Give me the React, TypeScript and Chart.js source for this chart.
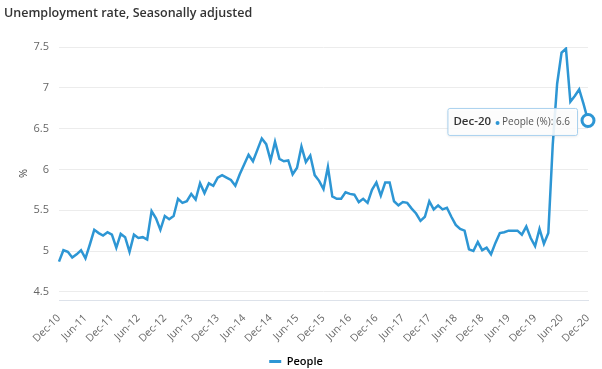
import React, { useEffect, useRef } from "react";
import { Chart, registerables } from "chart.js";

Chart.register(...registerables);

const TITLE = "Unemployment rate, Seasonally adjusted";
const SERIES_NAME = "People";
const UNIT = "%";

const MONTH_NAMES = ["Jan", "Feb", "Mar", "Apr", "May", "Jun", "Jul", "Aug", "Sep", "Oct", "Nov", "Dec"];
const START_YEAR = 2010;
const START_MONTH = 11; // Dec
const MONTH_COUNT = 121; // Dec-10 .. Dec-20
const LABEL_EVERY = 6;

const categories: string[] = [];
for (let i = 0; i < MONTH_COUNT; i++) {
  const m = (START_MONTH + i) % 12;
  const y = START_YEAR + Math.floor((START_MONTH + i) / 12);
  categories.push(`${MONTH_NAMES[m]}-${String(y % 100).padStart(2, "0")}`);
}

const peopleValues = [
  4.87, 5.01, 4.99, 4.92, 4.96, 5.01, 4.91, 5.08, 5.26, 5.22,
  5.19, 5.23, 5.2, 5.04, 5.21, 5.17, 4.99, 5.2, 5.16, 5.17,
  5.14, 5.49, 5.4, 5.26, 5.43, 5.39, 5.43, 5.64, 5.59, 5.61,
  5.7, 5.63, 5.83, 5.71, 5.83, 5.8, 5.9, 5.93, 5.9, 5.87,
  5.8, 5.94, 6.06, 6.18, 6.1, 6.24, 6.38, 6.31, 6.11, 6.34,
  6.13, 6.1, 6.11, 5.94, 6.02, 6.28, 6.09, 6.17, 5.93, 5.86,
  5.76, 6.03, 5.67, 5.64, 5.64, 5.72, 5.7, 5.69, 5.6, 5.64,
  5.59, 5.75, 5.84, 5.68, 5.84, 5.84, 5.61, 5.56, 5.6, 5.59,
  5.52, 5.46, 5.37, 5.42, 5.61, 5.51, 5.56, 5.51, 5.53, 5.42,
  5.32, 5.27, 5.25, 5.02, 5.0, 5.11, 5.01, 5.04, 4.96, 5.1,
  5.22, 5.23, 5.25, 5.25, 5.25, 5.2, 5.3, 5.16, 5.06, 5.27,
  5.09, 5.22, 6.3, 7.05, 7.43, 7.48, 6.83, 6.9, 6.98, 6.8,
  6.6,
];

const yTickValues = [4.5, 5, 5.5, 6, 6.5, 7, 7.5];
const Y_MIN = 4.4;
const Y_MAX = 7.5;

const BLUE = "#2d96d4";
const FONT = '"Open Sans", "Noto Sans", sans-serif';

const fixedTooltip = {
  id: "fixedTooltip",
  afterDatasetsDraw(chart: any) {
    const idx = peopleValues.length - 1;
    const pt = chart.getDatasetMeta(0).data[idx];
    if (!pt) return;
    const { x, y } = pt;
    const ctx = chart.ctx as CanvasRenderingContext2D;
    const title = categories[idx];
    const body = `${SERIES_NAME} (${UNIT}): ${peopleValues[idx]}`;
    ctx.save();
    const titleFont = `600 11.5px ${FONT}`;
    const bodyFont = `10px ${FONT}`;
    ctx.font = titleFont;
    const tw = ctx.measureText(title).width;
    ctx.font = bodyFont;
    const bw = ctx.measureText(body).width;
    const padL = 6, padR = 7, gap = 5, dotW = 6;
    const w = padL + tw + gap + dotW + bw + padR;
    const h = 27;
    const right = x - 11;
    const left = right - w;
    const top = y + 1 - h / 2;
    ctx.shadowColor = "rgba(0,0,0,0.12)";
    ctx.shadowBlur = 3;
    ctx.shadowOffsetY = 1;
    ctx.fillStyle = "rgba(255,255,255,0.88)";
    ctx.beginPath();
    (ctx as any).roundRect(left + 0.5, top + 0.5, w, h, 2);
    ctx.fill();
    ctx.shadowColor = "transparent";
    ctx.strokeStyle = "#a9d1ee";
    ctx.lineWidth = 1;
    ctx.stroke();
    const cy = top + h / 2 + 0.5;
    ctx.textBaseline = "middle";
    ctx.textAlign = "left";
    ctx.font = titleFont;
    ctx.fillStyle = "#333";
    ctx.fillText(title, left + padL, cy);
    const dotX = left + padL + tw + gap + 1.5;
    ctx.fillStyle = BLUE;
    ctx.beginPath();
    ctx.arc(dotX, cy + 1, 2, 0, Math.PI * 2);
    ctx.fill();
    ctx.font = bodyFont;
    ctx.fillStyle = "#555";
    ctx.fillText(body, left + padL + tw + gap + dotW, cy + 0.5);
    ctx.restore();
  },
};

export default function App() {
  const canvasRef = useRef<HTMLCanvasElement | null>(null);

  useEffect(() => {
    if (!canvasRef.current) return;
    const last = peopleValues.length - 1;
    const chart = new Chart(canvasRef.current, {
      type: "line",
      data: {
        labels: categories,
        datasets: [
          {
            label: SERIES_NAME,
            data: peopleValues,
            borderColor: BLUE,
            backgroundColor: BLUE,
            borderWidth: 2.5,
            tension: 0,
            fill: false,
            pointRadius: (c: any) => (c.dataIndex === last ? 6 : 0),
            pointBackgroundColor: "#ffffff",
            pointBorderColor: BLUE,
            pointBorderWidth: 3,
          },
        ],
      },
      options: {
        responsive: true,
        maintainAspectRatio: false,
        animation: false,
        events: [],
        layout: { padding: { left: 4, right: 14, top: 0, bottom: -8 } },
        plugins: {
          title: {
            display: true,
            text: TITLE,
            align: "start",
            color: "#333",
            font: { family: FONT, size: 12.5, weight: "600" },
            padding: { top: 6, bottom: 26 },
          },
          legend: {
            position: "bottom",
            labels: {
              boxWidth: 12,
              boxHeight: 3,
              padding: 2,
              color: "#333",
              font: { family: FONT, size: 11, weight: "600" },
              generateLabels: () => [
                {
                  text: SERIES_NAME,
                  fillStyle: BLUE,
                  strokeStyle: BLUE,
                  lineWidth: 0,
                  hidden: false,
                  datasetIndex: 0,
                } as any,
              ],
            },
          },
          tooltip: { enabled: false },
        },
        scales: {
          x: {
            grid: { display: false },
            border: { display: true, color: "#dde2ea", width: 1 },
            ticks: {
              autoSkip: false,
              minRotation: 45,
              maxRotation: 45,
              padding: 4,
              color: "#666",
              font: { family: FONT, size: 10.5 },
              callback: (_v: any, i: number) => (i % LABEL_EVERY === 0 ? categories[i] : null),
            },
            afterFit: (s: any) => {
              s.height = 54;
            },
          },
          y: {
            min: Y_MIN,
            max: Y_MAX,
            afterBuildTicks: (s: any) => {
              s.ticks = yTickValues.map((v) => ({ value: v }));
            },
            grid: { color: "#ececec", drawTicks: false, lineWidth: 1 },
            border: { display: false },
            ticks: {
              padding: 10,
              color: "#666",
              font: { family: FONT, size: 11 },
              callback: (v: any) => String(v),
            },
            title: {
              display: true,
              text: UNIT,
              color: "#444",
              font: { family: FONT, size: 11 },
              padding: { top: 13, bottom: 0 },
            },
            afterFit: (s: any) => {
              s.width = 55;
            },
          },
        },
      },
      plugins: [fixedTooltip],
    });
    return () => chart.destroy();
  }, []);

  return (
    <div style={{ position: "fixed", left: 0, top: 0, width: 602, height: 369, background: "#fff" }}>
      <canvas ref={canvasRef} />
    </div>
  );
}
